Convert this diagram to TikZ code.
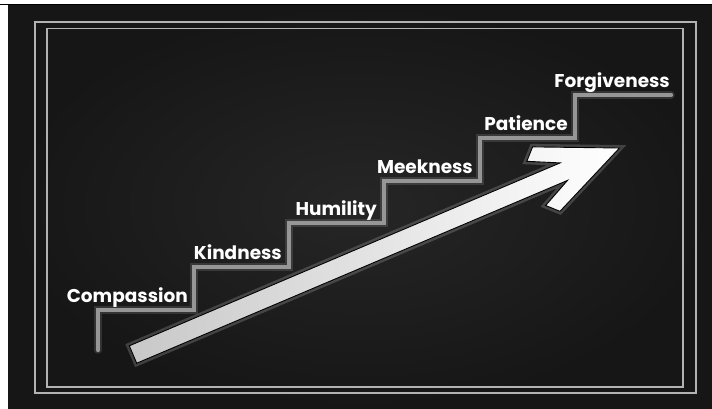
\documentclass[tikz,border=0pt]{standalone}
\usepackage{fontspec}
\setmainfont{Poppins}
\definecolor{bginner}{RGB}{38,38,38}
\definecolor{bgouter}{RGB}{22,22,22}
\definecolor{framegray}{RGB}{178,178,178}
\definecolor{stairgray}{RGB}{150,150,150}
\definecolor{arrowlo}{RGB}{200,200,200}
\begin{document}
\begin{tikzpicture}[x=1pt,y=-1pt,
  frameline/.style={draw=framegray, line width=1.8pt},
  stairglow/.style={draw=white, opacity=0.12, line width=7.5pt, line cap=round, line join=miter},
  stairline/.style={draw=stairgray, line width=4.2pt, line cap=round, line join=miter},
  steplabel/.style={font=\bfseries\fontsize{18.5}{20}\selectfont, text=white, anchor=base east, inner sep=0pt},
  arrowglow/.style={draw=white, opacity=0.18, line width=6pt, line join=miter},
  arrowbody/.style={left color=arrowlo, right color=white, draw=black, line width=0.9pt, line join=miter},
]
\useasboundingbox (0,0) rectangle (712,408);
% background
\fill[white] (0,0) rectangle (712,408);
\shade[inner color=bginner, outer color=bgouter] (8,4) rectangle (712,408);
\draw[black, line width=1.4pt] (0,4.5) -- (712,4.5);
% frames
\draw[frameline] (35,22) rectangle (696,393);
\draw[frameline] (47,28.5) rectangle (683,387);
% stair corners
\coordinate (s0) at (98,350);
\coordinate (s1) at (98,310);
\coordinate (s2) at (194,310);
\coordinate (s3) at (194,267);
\coordinate (s4) at (289,267);
\coordinate (s5) at (289,223);
\coordinate (s6) at (384,223);
\coordinate (s7) at (384,181);
\coordinate (s8) at (480,181);
\coordinate (s9) at (480,138);
\coordinate (s10) at (575,138);
\coordinate (s11) at (575,95);
\coordinate (s12) at (671,95);
\draw[stairglow] (s0) -- (s1) -- (s2) -- (s3) -- (s4) -- (s5) -- (s6) -- (s7) -- (s8) -- (s9) -- (s10) -- (s11) -- (s12);
\draw[stairline] (s0) -- (s1) -- (s2) -- (s3) -- (s4) -- (s5) -- (s6) -- (s7) -- (s8) -- (s9) -- (s10) -- (s11) -- (s12);
% labels
\node[steplabel] (compassion) at (188,302) {Compassion};
\node[steplabel] (kindness) at (282,259) {Kindness};
\node[steplabel] (humility) at (377,215) {Humility};
\node[steplabel] (meekness) at (473,173) {Meekness};
\node[steplabel] (patience) at (568,130) {Patience};
\node[steplabel] (forgiveness) at (670,87) {Forgiveness};
% arrow
\coordinate (a1) at (129.3,345.8);
\coordinate (a2) at (560.1,162.9);
\coordinate (a3) at (526.8,161.3);
\coordinate (a4) at (532.6,146.9);
\coordinate (a5) at (619.5,148.0);
\coordinate (a6) at (560.0,211.3);
\coordinate (a7) at (545.6,205.5);
\coordinate (a8) at (567.5,180.4);
\coordinate (a9) at (136.7,363.2);
\draw[arrowglow] (a1) -- (a2) -- (a3) -- (a4) -- (a5) -- (a6) -- (a7) -- (a8) -- (a9) -- cycle;
\shade[arrowbody] (a1) -- (a2) -- (a3) -- (a4) -- (a5) -- (a6) -- (a7) -- (a8) -- (a9) -- cycle;
\end{tikzpicture}
\end{document}
